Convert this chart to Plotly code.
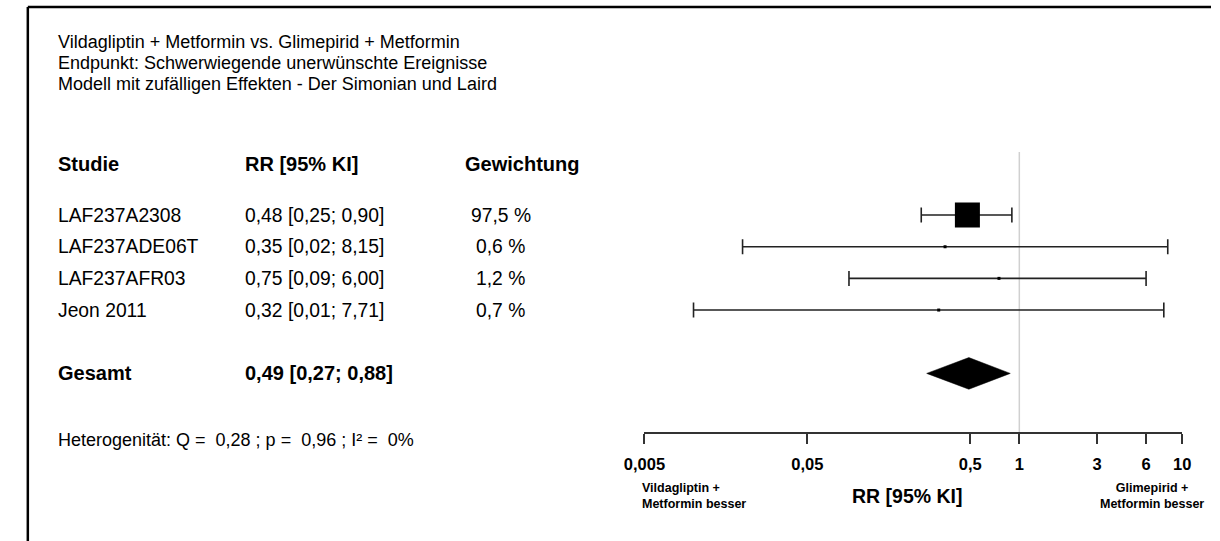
import math
import plotly.graph_objects as go

# Study data
studies = ["LAF237A2308", "LAF237ADE06T", "LAF237AFR03", "Jeon 2011"]
rr = [0.48, 0.35, 0.75, 0.32]
ci_low = [0.25, 0.02, 0.09, 0.01]
ci_high = [0.90, 8.15, 6.00, 7.71]
weights = [97.5, 0.6, 1.2, 0.7]

# Pooled estimate
pooled_label = "Gesamt"
pooled_rr = 0.49
pooled_low = 0.27
pooled_high = 0.88

# Axis ticks
tick_vals = [0.005, 0.05, 0.5, 1, 3, 6, 10]
tick_text = ["0,005", "0,05", "0,5", "1", "3", "6", "10"]

title_lines = [
    "Vildagliptin + Metformin vs. Glimepirid + Metformin",
    "Endpunkt: Schwerwiegende unerwünschte Ereignisse",
    "Modell mit zufälligen Effekten - Der Simonian und Laird",
]
heterogeneity = "Heterogenität: Q =\u00a0\u00a00,28 ; p =\u00a0\u00a00,96 ; I² =\u00a0\u00a00%"

FONT = "Liberation Sans, Arial, Helvetica, sans-serif"
W, H = 1220, 541


def de(v):
    return f"{v:.2f}".replace(".", ",")


def px_x(p):
    return p / W


def px_y(p):
    return 1 - p / H


row_pos = list(range(len(studies)))
pooled_pos = len(studies) + 1
header_pos = -1.6

fig = go.Figure()

# Vertical line of no effect
fig.add_shape(type="line", xref="x", yref="y domain", x0=1, x1=1, y0=0, y1=1,
              line=dict(color="#d0d0d0", width=1.5), layer="below")

# Study estimates with confidence intervals
sizes = [max(3, 25 * math.sqrt(w / max(weights))) for w in weights]
fig.add_trace(go.Scatter(
    x=rr, y=row_pos, mode="markers",
    marker=dict(symbol="square", size=sizes, color="black", opacity=1,
                line=dict(width=0)),
    error_x=dict(type="data", symmetric=False,
                 array=[h - r for h, r in zip(ci_high, rr)],
                 arrayminus=[r - l for r, l in zip(rr, ci_low)],
                 color="#222222", thickness=1.6, width=7.5),
    hoverinfo="skip", showlegend=False,
))

# Pooled diamond
dh = 0.5
fig.add_trace(go.Scatter(
    x=[pooled_low, pooled_rr, pooled_high, pooled_rr, pooled_low],
    y=[pooled_pos, pooled_pos - dh, pooled_pos, pooled_pos + dh, pooled_pos],
    mode="lines", fill="toself", fillcolor="black",
    line=dict(color="black", width=0.5),
    hoverinfo="skip", showlegend=False,
))

fig.update_xaxes(
    type="log", range=[math.log10(0.005), math.log10(10)],
    domain=[px_x(639.2), px_x(1190.5)],
    showgrid=False, zeroline=False,
    showline=True, linecolor="#333333", linewidth=1.6,
    ticks="outside", ticklen=10, tickwidth=1.6, tickcolor="#333333",
    tickvals=tick_vals, ticktext=tick_text,
    tickfont=dict(family=FONT, size=16.5, color="black", weight="bold"),
    ticklabelstandoff=6,
)
fig.update_yaxes(
    range=[6.85, -1.99], domain=[px_y(432), px_y(152)],
    showgrid=False, zeroline=False, showticklabels=False, showline=False,
)

ann = []


def text(x, y, s, size=19.3, bold=False, xanchor="left", yref="y", align="left"):
    ann.append(dict(
        x=x, y=y, xref="paper", yref=yref, text=s, showarrow=False,
        xanchor=xanchor, yanchor="middle", align=align,
        font=dict(family=FONT, size=size, color="black",
                  weight="bold" if bold else "normal"),
    ))


# Title block
for i, line in enumerate(title_lines):
    text(px_x(36), px_y(42 + 21 * i), line, size=18, yref="paper")

# Column headers
text(px_x(36), header_pos, "Studie", size=20, bold=True)
text(px_x(228), header_pos, "RR [95% KI]", size=20, bold=True)
text(px_x(514), header_pos, "Gewichtung", size=20, bold=True, xanchor="center")

# Study rows
for i, s in enumerate(studies):
    text(px_x(36), row_pos[i], s)
    text(px_x(228), row_pos[i], f"{de(rr[i])} [{de(ci_low[i])}; {de(ci_high[i])}]")
    text(px_x(492), row_pos[i], f"{weights[i]:.1f} %".replace(".", ","), xanchor="center")

# Pooled row
text(px_x(36), pooled_pos, pooled_label, size=20, bold=True)
text(px_x(228), pooled_pos, f"{de(pooled_rr)} [{de(pooled_low)}; {de(pooled_high)}]",
     size=20, bold=True)

# Heterogeneity
text(px_x(36), px_y(440), heterogeneity, size=18, yref="paper")

# Axis captions
text(px_x(909), px_y(496), "RR [95% KI]", size=19.5, bold=True, yref="paper", xanchor="center")
text(px_x(635), px_y(496), "Vildagliptin +<br>Metformin besser", size=12.5, bold=True,
     yref="paper", align="left")
text(px_x(1159), px_y(496), "Glimepirid +<br>Metformin besser", size=12.5, bold=True,
     yref="paper", xanchor="center", align="center")

# Frame (top and left edges visible)
frame = [
    dict(type="line", xref="paper", yref="paper", x0=px_x(7), x1=1.0, y0=px_y(7), y1=px_y(7),
         line=dict(color="black", width=2.5)),
    dict(type="line", xref="paper", yref="paper", x0=px_x(7), x1=px_x(7), y0=0.0, y1=px_y(7),
         line=dict(color="black", width=2.5)),
]
for sh in frame:
    fig.add_shape(**sh)

fig.update_layout(
    width=W, height=H, margin=dict(l=0, r=0, t=0, b=0),
    paper_bgcolor="white", plot_bgcolor="white",
    annotations=ann,
)

fig.write_html("out.html")
